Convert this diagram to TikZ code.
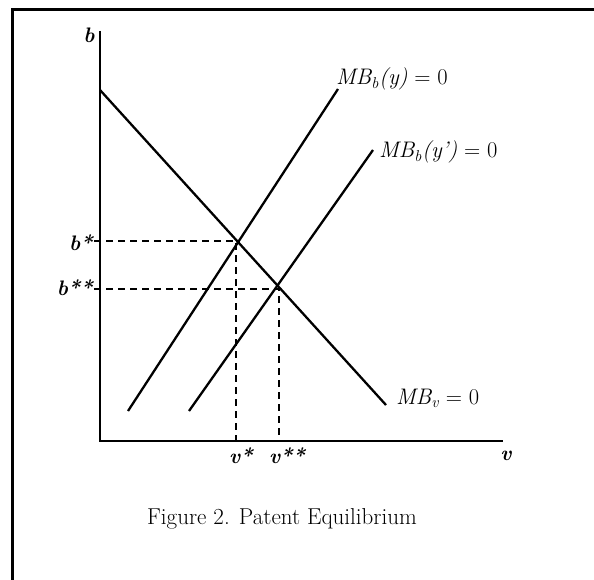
\documentclass[tikz,border=0pt]{standalone}
\usepackage{fontspec}
\begin{document}
\begin{tikzpicture}[x=1pt,y=-1pt,
  curve/.style={line width=2.3pt},
  axis/.style={line width=2.6pt},
  guide/.style={line width=1.7pt, dash pattern=on 7pt off 5pt},
  lbl/.style={font=\fontsize{22.5}{26}\selectfont, inner sep=0pt},
  axlbl/.style={font=\fontsize{21}{25}\selectfont\bfseries\itshape, inner sep=0pt}]
\useasboundingbox (0,0) rectangle (594,580);
% frame
\draw[line width=3pt] (12,580) -- (12,10) -- (594,10);
% axes
\coordinate (O) at (100,441);
\coordinate (ytop) at (100,31);
\coordinate (xend) at (503,441);
\draw[axis] (ytop) -- (O) -- (xend);
\node[axlbl] (blab) at (89,35) {b};
\node[axlbl] (vlab) at (506,456) {v};
% curves
\coordinate (mv1) at (100,90);
\coordinate (mv2) at (386,405);
\coordinate (my1) at (128,411);
\coordinate (my2) at (338,89);
\coordinate (myp1) at (189,411);
\coordinate (myp2) at (373,150);
\draw[curve] (mv1) -- (mv2);
\draw[curve] (my1) -- (my2);
\draw[curve] (myp1) -- (myp2);
% equilibria
\coordinate (E1) at (236,241);
\coordinate (E2) at (279,289);
\coordinate (b1) at (94,241);
\coordinate (b2) at (94,289);
\coordinate (v1) at (236,441);
\coordinate (v2) at (279,441);
\draw[guide] (b1) -- (E1) -- (v1);
\draw[guide] (b2) -- (E2) -- (v2);
% labels
\node[axlbl, anchor=east] (bs) at (93,243) {b*};
\node[axlbl, anchor=east] (bss) at (93,288) {b**};
\node[axlbl] (vs) at (241,456) {v*};
\node[axlbl] (vss) at (287,456) {v**};
\node[lbl, anchor=west] (l1) at (336,79) {{\itshape MB\textsubscript{b}(y)} = 0};
\node[lbl, anchor=west] (l2) at (379,152) {{\itshape MB\textsubscript{b}(y’)} = 0};
\node[lbl, anchor=west] (l3) at (396,398) {{\itshape MB\textsubscript{v}} = 0};
\node[font=\fontsize{23}{27}\selectfont, inner sep=0pt] (cap) at (282,519) {Figure 2. Patent Equilibrium};
\end{tikzpicture}
\end{document}
